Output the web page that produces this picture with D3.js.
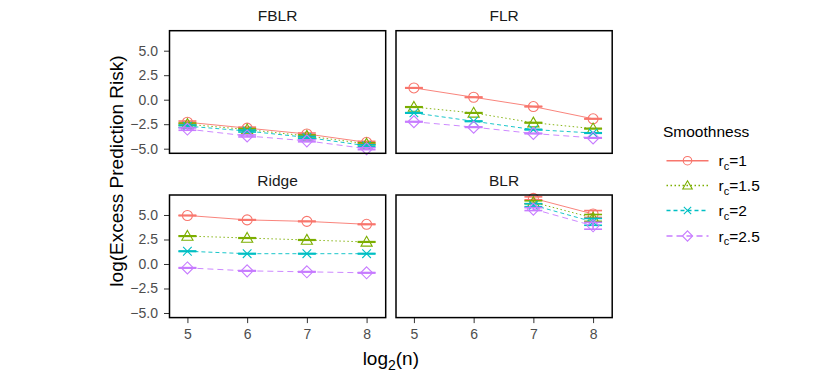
<!DOCTYPE html>
<html>
<head>
<meta charset="utf-8">
<script src="https://cdn.jsdelivr.net/npm/d3@7"></script>
<style>
  body { margin: 0; background: #fff; }
  svg text { font-family: "Liberation Sans", Arial, sans-serif; }
</style>
</head>
<body>
<svg width="830" height="374"></svg>
<script>
const width = 830;
const height = 374;

/* data */
const logN = [5, 6, 7, 8];
const panels = ['FBLR', 'FLR', 'Ridge', 'BLR'];
const smoothness = ['1', '1.5', '2', '2.5'];

const fblr = [
  [-2.3, -2.9, -3.5, -4.35],
  [-2.5, -3.05, -3.7, -4.5],
  [-2.7, -3.2, -3.85, -4.7],
  [-3.0, -3.7, -4.2, -5.0]
];
const flr = [
  [1.2, 0.25, -0.7, -1.95],
  [-0.75, -1.35, -2.35, -2.95],
  [-1.35, -2.2, -3.05, -3.4],
  [-2.25, -2.8, -3.45, -3.9]
];
const ridge = [
  [4.95, 4.5, 4.35, 4.05],
  [2.85, 2.65, 2.45, 2.25],
  [1.3, 1.05, 1.05, 1.05],
  [-0.4, -0.7, -0.8, -0.9]
];
const blr = [
  [null, null, 6.7, 5.1],
  [null, null, 6.3, 4.7],
  [null, null, 6.0, 4.3],
  [null, null, 5.6, 3.9]
];
const panelValues = [fblr, flr, ridge, blr];
// half height of the error bars, per panel and log2(n)
const panelSe = [
  [0.12, 0.1, 0.1, 0.1],
  [0.03, 0.03, 0.03, 0.03],
  [0.03, 0.03, 0.03, 0.03],
  [0, 0, 0.15, 0.35]
];
const yTicks = [-5, -2.5, 0, 2.5, 5];

const colors = ['#F8766D', '#7CAE00', '#00BFC4', '#C77CFF'];
const dashes = [null, '1.5,2.5', '4,3', '6,4'];
const shapes = ['circle', 'triangle', 'cross', 'diamond'];

const svg = d3.select('svg')
  .attr('width', width)
  .attr('height', height);

/* panel geometry */
const colX = [169.5, 396];
const rowY = [30.7, 195];
const pw = 216.2;
const ph = 122.6;

const x = d3.scaleLinear().domain([4.7, 8.32]).range([0, pw]);
const y = d3.scaleLinear().domain([-5.47, 7.04]).range([ph, 0]);

function drawShape(g, type, cx, cy, color, k = 1) {
  if (type === 'circle') {
    g.append('circle').attr('cx', cx).attr('cy', cy).attr('r', 5 * k)
      .attr('fill', 'none').attr('stroke', color).attr('stroke-width', 1.1);
  } else if (type === 'triangle') {
    const s = 5.6 * k;
    g.append('path')
      .attr('d', `M${cx},${cy - s} L${cx + s},${cy + s * 0.75} L${cx - s},${cy + s * 0.75} Z`)
      .attr('fill', 'none').attr('stroke', color).attr('stroke-width', 1.1);
  } else if (type === 'cross') {
    const s = 4.3 * k;
    g.append('path')
      .attr('d', `M${cx - s},${cy - s} L${cx + s},${cy + s} M${cx - s},${cy + s} L${cx + s},${cy - s}`)
      .attr('stroke', color).attr('stroke-width', 1.1);
  } else {
    const s = 6 * k;
    g.append('path')
      .attr('d', `M${cx},${cy - s} L${cx + s},${cy} L${cx},${cy + s} L${cx - s},${cy} Z`)
      .attr('fill', 'none').attr('stroke', color).attr('stroke-width', 1.1);
  }
}

panels.forEach((name, p) => {
  const col = p % 2;
  const row = Math.floor(p / 2);
  const g = svg.append('g')
    .attr('transform', `translate(${colX[col]},${rowY[row]})`);

  /* strip title */
  g.append('text')
    .attr('x', pw / 2)
    .attr('y', -9.5)
    .attr('text-anchor', 'middle')
    .style('font-size', '15.5px')
    .style('fill', '#1A1A1A')
    .text(name);

  /* y axis on the left column */
  if (col === 0) {
    const yAxis = g.append('g')
      .call(d3.axisLeft(y).tickValues(yTicks).tickFormat(d3.format('.1f')).tickSize(5.5).tickPadding(6));
    yAxis.select('.domain').remove();
    yAxis.selectAll('line').attr('stroke', '#333333');
    yAxis.selectAll('text')
      .style('font-size', '14px')
      .style('fill', '#4D4D4D');
  }

  /* x axis on the bottom row */
  if (row === 1) {
    const xAxis = g.append('g')
      .attr('transform', `translate(0,${ph})`)
      .call(d3.axisBottom(x).tickValues(logN).tickFormat(d3.format('d')).tickSize(5.5).tickPadding(5.5));
    xAxis.select('.domain').remove();
    xAxis.selectAll('line').attr('stroke', '#333333');
    xAxis.selectAll('text')
      .style('font-size', '14px')
      .style('fill', '#4D4D4D');
  }

  const values = panelValues[p];
  const se = panelSe[p];

  values.forEach((series, s) => {
    const pts = logN.map((n, i) => ({ n, v: series[i], se: se[i] }))
      .filter(d => d.v !== null);

    const line = d3.line()
      .x(d => x(d.n))
      .y(d => y(d.v));

    g.append('path')
      .datum(pts)
      .attr('d', line)
      .attr('fill', 'none')
      .attr('stroke', colors[s])
      .attr('stroke-width', 0.9)
      .attr('stroke-dasharray', dashes[s]);

    /* error bars */
    pts.forEach(d => {
      const x0 = x(d.n - 0.15);
      const x1 = x(d.n + 0.15);
      const eb = g.append('g').attr('stroke', colors[s]).attr('stroke-width', 1.6);
      eb.append('line').attr('x1', x0).attr('x2', x1)
        .attr('y1', y(d.v + d.se)).attr('y2', y(d.v + d.se));
      eb.append('line').attr('x1', x0).attr('x2', x1)
        .attr('y1', y(d.v - d.se)).attr('y2', y(d.v - d.se));
      eb.append('line').attr('x1', x(d.n)).attr('x2', x(d.n))
        .attr('y1', y(d.v + d.se)).attr('y2', y(d.v - d.se));
    });

    pts.forEach(d => drawShape(g, shapes[s], x(d.n), y(d.v), colors[s]));
  });

  /* panel border */
  g.append('rect')
    .attr('width', pw)
    .attr('height', ph)
    .attr('fill', 'none')
    .attr('stroke', '#000')
    .attr('stroke-width', 1.5);
});

/* axis titles */
svg.append('text')
  .attr('transform', 'translate(123,171) rotate(-90)')
  .attr('text-anchor', 'middle')
  .style('font-size', '19px')
  .style('fill', '#000')
  .text('log(Excess Prediction Risk)');

const xTitle = svg.append('text')
  .attr('x', (colX[0] + colX[1] + pw) / 2)
  .attr('y', 365)
  .attr('text-anchor', 'middle')
  .style('font-size', '19px')
  .style('fill', '#000');
xTitle.append('tspan').text('log');
xTitle.append('tspan').attr('dy', 5).style('font-size', '14px').text('2');
xTitle.append('tspan').attr('dy', -5).text('(n)');

/* legend */
const legend = svg.append('g').attr('transform', 'translate(663,0)');
legend.append('text')
  .attr('x', 0)
  .attr('y', 136.5)
  .style('font-size', '15.5px')
  .style('fill', '#000')
  .text('Smoothness');

const legendY = [160.7, 185.5, 210.5, 236];
smoothness.forEach((r, s) => {
  const ly = legendY[s];
  legend.append('line')
    .attr('x1', 3.5).attr('x2', 45.5)
    .attr('y1', ly).attr('y2', ly)
    .attr('stroke', colors[s])
    .attr('stroke-width', 1.6)
    .attr('stroke-dasharray', dashes[s]);
  drawShape(legend, shapes[s], 24.5, ly, colors[s], 0.85);
  const t = legend.append('text')
    .attr('x', 55.5)
    .attr('y', ly + 5.5)
    .style('font-size', '15.5px')
    .style('fill', '#000');
  t.append('tspan').text('r');
  t.append('tspan').attr('dy', 3.5).style('font-size', '11px').text('c');
  t.append('tspan').attr('dy', -3.5).text('=' + r);
});
</script>
</body>
</html>
